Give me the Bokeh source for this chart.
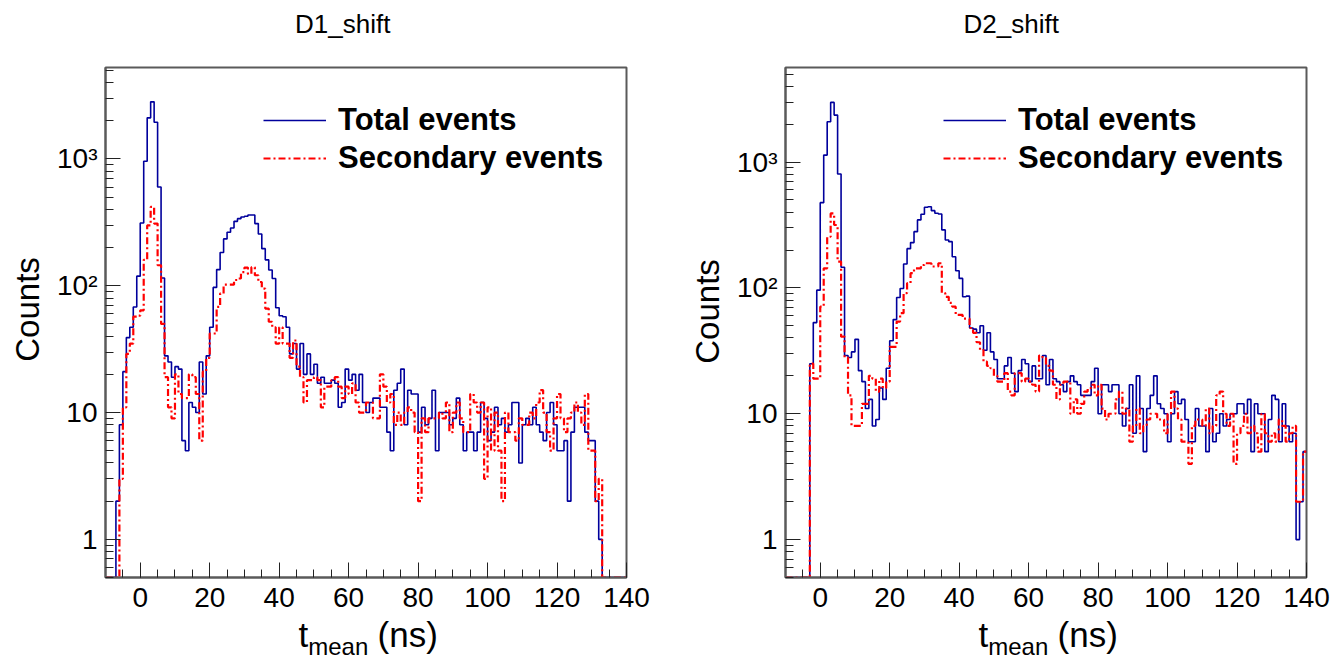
import numpy as np
from bokeh.plotting import figure
from bokeh.layouts import row
from bokeh.models import Legend, LegendItem, FixedTicker, Range1d, LinearAxis
from bokeh.embed import file_html
from bokeh.resources import INLINE

# ---- data: counts per 1 ns bin, bins start at -10, -9, ..., 139 ----
bin_low_edges = list(range(-10, 140))
bin_width = 1

d1_total = [
    0, 0, 0, 2, 8, 21, 39, 47, 68, 119,
    312, 959, 2108, 2820, 1946, 601, 115, 28, 25, 19,
    23, 22, 6, 5, 12, 11, 10, 25, 14, 28,
    47, 97, 134, 183, 234, 264, 285, 322, 338, 348,
    353, 361, 361, 309, 256, 196, 160, 133, 114, 67,
    58, 57, 47, 29, 35, 22, 35, 20, 29, 20,
    24, 17, 19, 17, 17, 18, 17, 11, 12, 22,
    18, 20, 15, 20, 12, 10, 12, 13, 13, 11,
    11, 7, 5, 15, 17, 22, 8, 15, 14, 14,
    7, 11, 8, 9, 15, 5, 10, 10, 10, 8,
    9, 13, 8, 5, 7, 7, 5, 7, 12, 9,
    6, 7, 11, 8, 9, 7, 8, 12, 12, 4,
    8, 9, 8, 11, 8, 7, 6, 10, 12, 8,
    5, 5, 6, 2, 7, 11, 11, 11, 7, 6,
    6, 2, 1, 0, 0, 0, 0, 0, 0, 0,
]
d1_secondary = [
    0, 0, 0, 0, 3, 11, 29, 35, 57, 58,
    64, 160, 299, 418, 309, 145, 50, 19, 11, 9,
    20, 14, 13, 13, 20, 19, 14, 6, 21, 27,
    42, 42, 68, 87, 102, 102, 102, 111, 114, 128,
    139, 124, 140, 121, 107, 95, 66, 52, 47, 35,
    47, 35, 35, 27, 37, 23, 19, 12, 18, 18,
    19, 18, 11, 16, 16, 18, 19, 16, 13, 16,
    14, 17, 12, 10, 10, 12, 12, 9, 9, 20,
    16, 12, 14, 8, 10, 8, 10, 11, 10, 7,
    2, 9, 7, 9, 9, 9, 10, 9, 12, 7,
    10, 12, 9, 7, 7, 14, 12, 10, 12, 3,
    11, 5, 10, 5, 2, 10, 7, 7, 6, 9,
    8, 8, 10, 9, 12, 15, 10, 7, 5, 9,
    14, 9, 7, 9, 10, 12, 10, 8, 14, 5,
    5, 2, 3, 0, 0, 0, 0, 0, 0, 0,
]
d2_total = [
    0, 0, 0, 0, 0, 0, 0, 25, 53, 96,
    476, 1136, 2090, 2977, 2360, 803, 146, 29, 28, 31,
    39, 22, 18, 11, 13, 8, 9, 16, 13, 23,
    38, 56, 84, 99, 155, 205, 229, 280, 347, 385,
    437, 442, 411, 392, 387, 289, 240, 233, 177, 137,
    119, 85, 86, 48, 47, 44, 50, 32, 44, 31,
    27, 19, 19, 24, 28, 21, 15, 22, 27, 25,
    18, 24, 19, 19, 29, 17, 27, 19, 18, 17,
    15, 18, 20, 18, 17, 14, 14, 14, 18, 23,
    10, 17, 17, 15, 17, 17, 10, 8, 11, 17,
    7, 20, 11, 5, 11, 14, 20, 12, 11, 10,
    6, 10, 15, 12, 13, 9, 6, 6, 11, 8,
    8, 5, 11, 6, 7, 10, 8, 9, 10, 10,
    12, 12, 10, 13, 5, 12, 10, 10, 5, 9,
    14, 13, 6, 12, 8, 6, 7, 1, 2, 5,
]
d2_secondary = [
    0, 0, 0, 0, 0, 0, 0, 25, 19, 19,
    71, 143, 255, 391, 316, 162, 41, 28, 14, 8,
    8, 8, 12, 12, 20, 19, 15, 19, 16, 18,
    34, 34, 54, 63, 91, 109, 131, 143, 143, 152,
    157, 157, 148, 148, 157, 91, 85, 76, 71, 61,
    61, 57, 57, 48, 44, 37, 32, 26, 24, 23,
    20, 18, 18, 21, 15, 14, 21, 21, 18, 19,
    18, 17, 15, 29, 28, 24, 22, 17, 13, 17,
    18, 18, 10, 13, 10, 12, 15, 16, 17, 14,
    17, 11, 9, 10, 10, 13, 15, 10, 11, 6,
    8, 11, 7, 8, 9, 10, 10, 9, 9, 7,
    10, 15, 11, 9, 6, 6, 4, 8, 9, 9,
    8, 11, 7, 8, 14, 15, 10, 8, 10, 4,
    7, 8, 10, 7, 8, 7, 5, 10, 7, 6,
    7, 6, 9, 8, 6, 7, 8, 2, 2, 5,
]

titles = ["D1_shift", "D2_shift"]
title_centres = [58.3, 55.0]              # data-x of the pad titles' centres
series_labels = ["Total events", "Secondary events"]
y_axis_title = {65: "Counts"}             # y-axis title (data-y of its centre)
x_title_main = {47: "t", 77: "(ns)"}      # x-axis title pieces (data-x of their centres)
x_title_sub = {57: "mean"}                # subscript piece
x_major_ticks = [0, 20, 40, 60, 80, 100, 120, 140]
y_major_ticks = [1, 10, 100, 1000]
y_tick_labels = {1: "1", 10: "10", 100: "10\u00b2", 1000: "10\u00b3"}
x_range_limits = (-10, 140)
y_min = 0.5
y_max_list = [5260, 5640]

FONT = "Liberation Sans"
BLUE = "#00009c"
RED = "#ff0000"
FRAME = "#5a5a5a"


def text_axis(pieces, size, standoff, orientation="horizontal"):
    """An axis with no line/ticks whose labels carry title text."""
    ax = LinearAxis(ticker=FixedTicker(ticks=list(pieces.keys())),
                    major_label_overrides=pieces)
    ax.axis_line_color = None
    ax.major_tick_line_color = None
    ax.minor_tick_line_color = None
    ax.major_tick_in = 0
    ax.major_tick_out = 0
    ax.minor_tick_in = 0
    ax.minor_tick_out = 0
    ax.major_label_standoff = standoff
    ax.major_label_orientation = orientation
    ax.major_label_text_font = FONT
    ax.major_label_text_font_size = size
    ax.major_label_text_color = "black"
    return ax


def make_panel(title, title_x, total, secondary, ymax, border_left, border_right):
    p = figure(
        title=None,
        frame_width=521, frame_height=510,
        min_border_left=border_left, min_border_right=border_right,
        min_border_top=67, min_border_bottom=82,
        x_range=Range1d(*x_range_limits), y_range=Range1d(y_min, ymax),
        y_axis_type="log", output_backend="svg", toolbar_location=None,
        background_fill_color="white", border_fill_color="white",
    )

    p.xgrid.visible = False
    p.ygrid.visible = False
    p.outline_line_color = FRAME
    p.outline_line_width = 2

    edges = list(bin_low_edges) + [bin_low_edges[-1] + bin_width]

    def stepy(vals):
        v = np.maximum(np.asarray(vals, dtype=float), y_min)
        return list(v) + [v[-1]]

    r_tot = p.step(edges, stepy(total), mode="after", line_color=BLUE, line_width=1.6)
    r_sec = p.step(edges, stepy(secondary), mode="after", line_color=RED,
                   line_width=2.2, line_dash="7 3 2 3")

    # axes
    minor_x = list(range(-10, 141, 5))
    p.xaxis.ticker = FixedTicker(ticks=x_major_ticks, minor_ticks=minor_x)
    minor_y = [m * 10.0 ** k for k in range(-1, 4) for m in range(2, 10)]
    p.yaxis.ticker = FixedTicker(ticks=y_major_ticks, minor_ticks=minor_y)
    p.yaxis.major_label_overrides = y_tick_labels
    for ax in (p.xaxis, p.yaxis):
        ax.axis_line_color = FRAME
        ax.axis_line_width = 2
        ax.major_tick_in = 15
        ax.major_tick_out = 0
        ax.minor_tick_in = 8
        ax.minor_tick_out = 0
        ax.major_tick_line_color = "#222222"
        ax.minor_tick_line_color = "#222222"
        ax.major_label_text_font = FONT
        ax.major_label_text_font_size = "28px"
        ax.major_label_text_color = "black"
    p.xaxis.major_label_standoff = 10
    p.yaxis.major_label_standoff = 8

    # y-axis title, outside the tick labels
    p.add_layout(text_axis(y_axis_title, "33px", 8, "vertical"), "left")

    # pad title above the frame
    p.add_layout(text_axis({title_x: title}, "26px", 29), "above")

    # x-axis title "t_mean (ns)" drawn as two label rows (main + subscript)
    p.add_layout(text_axis(x_title_main, "35px", 5), "below")
    p.add_layout(text_axis(x_title_sub, "24px", -24), "below")

    legend = Legend(
        items=[LegendItem(label=series_labels[0], renderers=[r_tot]),
               LegendItem(label=series_labels[1], renderers=[r_sec])],
        location=(158, 401),
        label_text_font=FONT, label_text_font_size="31px",
        label_text_font_style="bold", label_text_color="black",
        glyph_width=63, glyph_height=34, label_height=34,
        label_standoff=12, spacing=2, padding=0, margin=0,
        border_line_alpha=0, background_fill_alpha=0,
    )
    p.add_layout(legend)
    return p


p1 = make_panel(titles[0], title_centres[0], d1_total, d1_secondary, y_max_list[0], 105, 43)
p2 = make_panel(titles[1], title_centres[1], d2_total, d2_secondary, y_max_list[1], 116, 31)
p = row(p1, p2)

open("out.html", "w").write(file_html(p, INLINE))
